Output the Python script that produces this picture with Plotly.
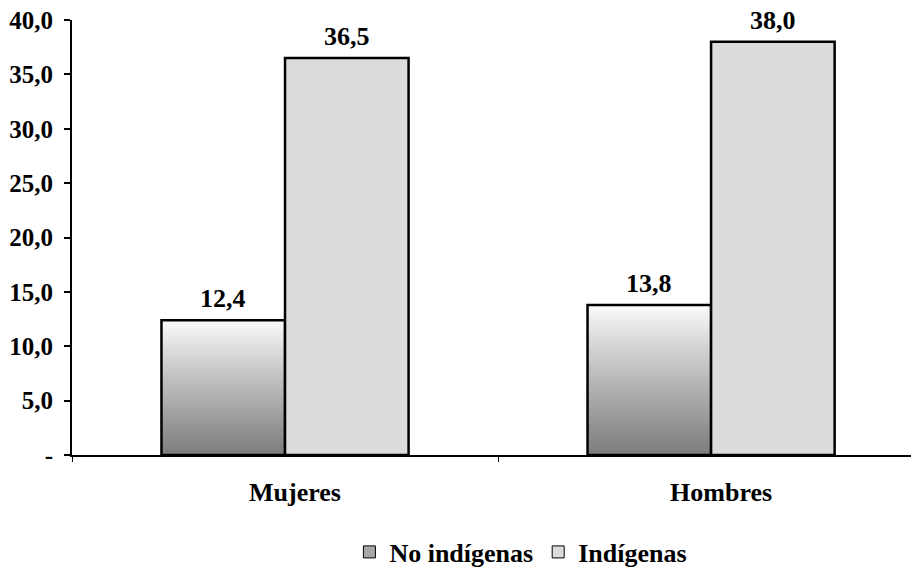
import base64, struct, zlib
import plotly.graph_objects as go

categories = ["Mujeres", "Hombres"]
no_indigenas = [12.4, 13.8]
indigenas = [36.5, 38.0]
series_names = ["No indígenas", "Indígenas"]
y_tick_vals = [0, 5, 10, 15, 20, 25, 30, 35, 40]
y_tick_text = ["-", "5,0", "10,0", "15,0", "20,0", "25,0", "30,0", "35,0", "40,0"]

def fmt(v):
    return f"{v:.1f}".replace(".", ",")

def gradient_png(h=256):
    rows = b""
    for i in range(h):
        t = i / (h - 1)
        v = int(round(253 - 128 * (t ** 0.9)))
        rows += b"\x00" + bytes([v, v, v])
    def chunk(tag, data):
        c = struct.pack(">I", len(data)) + tag + data
        return c + struct.pack(">I", zlib.crc32(tag + data) & 0xffffffff)
    png = b"\x89PNG\r\n\x1a\n"
    png += chunk(b"IHDR", struct.pack(">IIBBBBB", 1, h, 8, 2, 0, 0, 0))
    png += chunk(b"IDAT", zlib.compress(rows))
    png += chunk(b"IEND", b"")
    return "data:image/png;base64," + base64.b64encode(png).decode()

grad = gradient_png()
FONT = "Liberation Serif"
FS = 26
xpos = list(range(len(categories)))
bw = 0.29

fig = go.Figure()
fig.add_trace(go.Bar(
    x=xpos, y=no_indigenas, width=bw, offset=-bw, name=series_names[0],
    marker=dict(color="rgba(0,0,0,0)", line=dict(color="black", width=2.5)),
    showlegend=False, hoverinfo="x+y"))
fig.add_trace(go.Bar(
    x=xpos, y=indigenas, width=bw, offset=0, name=series_names[1],
    marker=dict(color="#dcdcdc", line=dict(color="black", width=2.5)),
    showlegend=False, hoverinfo="x+y"))
# legend entries
fig.add_trace(go.Bar(x=[None], y=[None], name="<b>" + series_names[0] + "</b>",
                     marker=dict(color="#a8a8a8", line=dict(color="black", width=1))))
fig.add_trace(go.Bar(x=[None], y=[None], name="<b>" + series_names[1] + "</b>",
                     marker=dict(color="#dcdcdc", line=dict(color="black", width=1))))

images = []
for xi, v in zip(xpos, no_indigenas):
    images.append(dict(source=grad, xref="x", yref="y", x=xi - bw, y=v,
                       sizex=bw, sizey=v, sizing="stretch",
                       xanchor="left", yanchor="top", layer="below"))

annotations = []
for xi, v in zip(xpos, no_indigenas):
    annotations.append(dict(x=xi - bw / 2, y=v, xref="x", yref="y", text="<b>" + fmt(v) + "</b>",
                            showarrow=False, yanchor="bottom", yshift=5,
                            font=dict(family=FONT, size=FS, color="black")))
for xi, v in zip(xpos, indigenas):
    annotations.append(dict(x=xi + bw / 2, y=v, xref="x", yref="y", text="<b>" + fmt(v) + "</b>",
                            showarrow=False, yanchor="bottom", yshift=5,
                            font=dict(family=FONT, size=FS, color="black")))

fig.update_layout(
    width=911, height=560,
    margin=dict(l=64, r=0, t=12, b=113, autoexpand=False),
    paper_bgcolor="white", plot_bgcolor="white",
    barmode="overlay",
    images=images,
    annotations=annotations,
    font=dict(family=FONT, size=FS, color="black"),
    showlegend=True,
    legend=dict(orientation="h", x=0.53, xanchor="center", y=-0.223, yanchor="middle",
                font=dict(family=FONT, size=FS, color="black"),
                itemwidth=30, tracegroupgap=0, traceorder="normal"),
    xaxis=dict(range=[-0.5, 1.488], tickvals=xpos, ticktext=[f"<b>{c}</b>" for c in categories],
               ticks="", showline=True, linecolor="black", linewidth=2, automargin=False,
               showgrid=False, zeroline=False, ticklabelstandoff=13, ticklabelshift=10,
               minor=dict(ticks="outside", tick0=0.5, dtick=1, ticklen=5,
                          tickcolor="black", showgrid=False)),
    yaxis=dict(range=[0, 40], tickvals=y_tick_vals, automargin=False,
               ticktext=[f"<b>{t}</b>" for t in y_tick_text],
               tickfont=dict(family=FONT, size=25, color="black"),
               ticks="outside", ticklen=6, tickcolor="black", tickwidth=1.5,
               showline=True, linecolor="black", linewidth=2, ticklabeloverflow="allow",
               showgrid=False, zeroline=False, ticklabelstandoff=6),
)

fig.write_html("out.html")
